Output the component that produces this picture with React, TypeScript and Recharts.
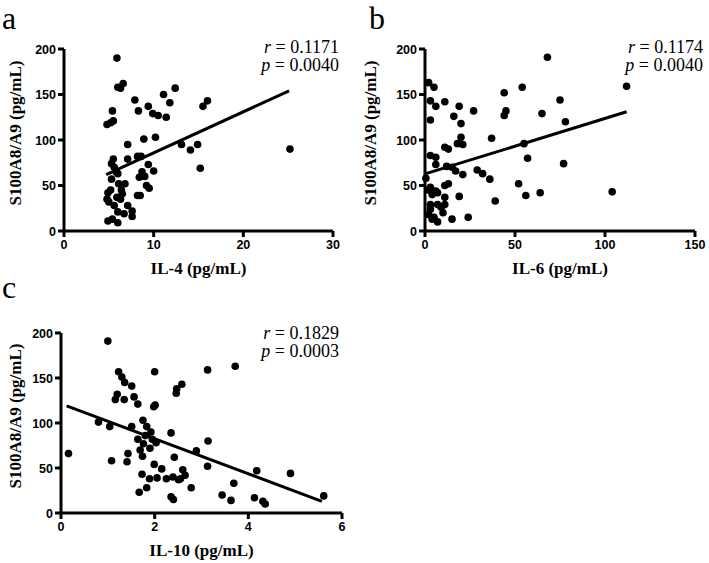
import React from "react";
import { ScatterChart, Scatter, XAxis, YAxis, ReferenceLine } from "recharts";

// panel a: IL-4 vs S100A8/A9
const il4Level = [5.9, 6.0, 6.3, 6.6, 4.8, 5.2, 5.5, 5.4, 7.9, 8.3, 9.4, 9.9, 10.5, 11.1, 11.8, 11.4, 12.4, 15.5, 16.0, 13.1, 14.1, 14.9, 15.2, 25.2, 8.9, 10.2, 7.1, 7.1, 5.5, 5.3, 5.6, 8.2, 8.6, 9.4, 10.0, 5.3, 6.0, 8.4, 8.7, 9.2, 9.5, 8.5, 8.2, 6.1, 6.8, 4.9, 4.8, 5.2, 5.9, 6.5, 5.6, 7.1, 7.6, 6.0, 6.7, 4.9, 5.4, 6.0, 7.6, 6.3, 5.0, 6.4, 5.8, 9.0];
const s100ForIl4 = [190, 158, 157, 162, 117, 119, 121, 132, 144, 132, 137, 129, 127, 150, 141, 125, 157, 137, 143, 95, 89, 95, 69, 90, 101, 103, 95, 79, 79, 74, 70, 82, 82, 73, 66, 57, 63, 59, 65, 50, 47, 39, 39, 52, 52, 42, 35, 45, 37, 41, 28, 28, 22, 21, 19, 11, 13, 9, 16, 35, 32, 45, 65, 60];
const il4FitX = [4.7, 25.1];
const il4FitY = [62, 154];

// panel b: IL-6 vs S100A8/A9
const il6Level = [68, 112, 2, 5, 44, 54, 75, 3, 6, 11, 19, 27, 45, 44, 65, 78, 3, 16, 20, 20, 21, 18, 37, 11, 13, 55, 57, 77, 3, 6, 6, 12, 15, 17, 0.5, 21, 29, 32, 36, 52, 11, 13, 3, 6, 4, 7, 11, 19, 39, 56, 64, 104, 3, 7, 11, 2, 5, 7, 10, 15, 24, 3, 2, 4, 9];
const s100ForIl6 = [191, 159, 163, 158, 152, 158, 144, 143, 137, 142, 137, 132, 132, 127, 129, 120, 122, 126, 118, 103, 95, 96, 102, 92, 90, 96, 80, 74, 83, 81, 73, 71, 70, 66, 58, 62, 67, 63, 57, 52, 50, 52, 48, 44, 40, 42, 37, 38, 33, 39, 42, 43, 29, 29, 29, 18, 15, 10, 20, 13, 15, 24, 45, 13, 26];
const il6FitX = [0.5, 112];
const il6FitY = [63, 131];

// panel c: IL-10 vs S100A8/A9
const il10Level = [0.16, 1.0, 0.8, 1.04, 1.08, 1.23, 1.3, 1.36, 1.51, 1.16, 1.2, 1.35, 1.56, 1.64, 2.0, 1.98, 2.01, 1.51, 1.75, 1.83, 1.92, 1.64, 1.8, 1.76, 1.69, 1.9, 2.03, 1.74, 1.41, 1.43, 1.73, 1.99, 1.89, 2.05, 2.15, 2.25, 2.35, 2.42, 2.39, 2.51, 2.6, 2.65, 2.46, 2.47, 2.58, 2.89, 3.13, 3.14, 3.13, 3.72, 3.69, 2.78, 1.67, 1.83, 2.35, 2.4, 3.44, 3.63, 4.18, 4.13, 4.31, 4.36, 4.9, 5.61, 1.95, 2.55];
const s100ForIl10 = [66, 191, 101, 96, 58, 157, 151, 145, 141, 126, 132, 126, 129, 121, 157, 118, 120, 96, 103, 96, 90, 82, 86, 77, 70, 72, 78, 63, 57, 66, 43, 54, 38, 39, 49, 38, 89, 62, 40, 37, 48, 42, 133, 138, 143, 69, 159, 80, 52, 163, 33, 28, 23, 28, 18, 15, 20, 14, 47, 17, 13, 10, 44, 19, 82, 38];
const il10FitX = [0.12, 5.57];
const il10FitY = [119, 13];

const yTicks = [0, 50, 100, 150, 200];
const il4Ticks = [0, 10, 20, 30];
const il6Ticks = [0, 50, 100, 150];
const il10Ticks = [0, 2, 4, 6];

const serif = "'Liberation Serif', 'Times New Roman', serif";
const sans = "'Liberation Sans', Arial, sans-serif";

const zip = (xs: number[], ys: number[]) => xs.map((x, i) => ({ x, y: ys[i] }));

const Dot = (props: any) => <circle cx={props.cx} cy={props.cy} r={3.8} fill="#000" />;

const XTick = (props: any) => (
  <text x={props.x} y={props.y} dy="0.72em" textAnchor="middle" fontFamily={sans} fontWeight={700} fontSize={12.5} fill="#000">
    {props.payload.value}
  </text>
);

const YTick = (props: any) => (
  <text x={props.x} y={props.y} dy="0.36em" textAnchor="end" fontFamily={sans} fontWeight={700} fontSize={12.5} fill="#000">
    {props.payload.value}
  </text>
);

const yLabel = (props: any) => {
  const vb = props.viewBox;
  const cx = vb.x + 15;
  const cy = vb.y + vb.height / 2 - 7;
  return (
    <text x={cx} y={cy} transform={`rotate(-90, ${cx}, ${cy})`} textAnchor="middle" dominantBaseline="central"
      fontFamily={serif} fontWeight="bold" fontSize={17} fill="#000">
      S100A8/A9 (pg/mL)
    </text>
  );
};

const makeXLabel = (text: string) => (props: any) => {
  const vb = props.viewBox;
  return (
    <text x={vb.x + vb.width / 2} y={vb.y + 43} textAnchor="middle" fontFamily={serif} fontWeight="bold" fontSize={17} fill="#000">
      {text}
    </text>
  );
};

type PanelProps = {
  left: number; top: number; width: number; height: number;
  yAxisWidth: number; right: number; plotTop: number; plotBottom: number;
  xs: number[]; ys: number[]; fitX: number[]; fitY: number[];
  xTicks: number[]; xLabel: string;
};

function Panel(p: PanelProps) {
  const data = zip(p.xs, p.ys);
  const xMax = p.xTicks[p.xTicks.length - 1];
  return (
    <div style={{ position: "absolute", left: p.left, top: p.top }}>
      <ScatterChart width={p.width} height={p.height}
        margin={{ top: p.plotTop, right: p.right, left: 0, bottom: 0 }}>
        <XAxis type="number" dataKey="x" domain={[0, xMax]} ticks={p.xTicks} interval={0}
          height={p.height - p.plotBottom} stroke="#000" strokeWidth={3} tickSize={6} tickMargin={3}
          tick={XTick} label={{ content: makeXLabel(p.xLabel) }} />
        <YAxis type="number" dataKey="y" domain={[0, 200]} ticks={yTicks} interval={0}
          width={p.yAxisWidth} stroke="#000" strokeWidth={3} tickSize={6} tickMargin={2}
          tick={YTick} label={{ content: yLabel }} />
        <Scatter data={data} shape={Dot} isAnimationActive={false} />
        <ReferenceLine segment={[{ x: p.fitX[0], y: p.fitY[0] }, { x: p.fitX[1], y: p.fitY[1] }]}
          stroke="#000" strokeWidth={3} ifOverflow="visible" />
      </ScatterChart>
    </div>
  );
}

const stat = (x: number, y: number, r: string, pv: string) => (
  <g fontFamily={serif} fontSize={18} fill="#000" textAnchor="end">
    <text x={x} y={y}><tspan fontStyle="italic">r</tspan> = {r}</text>
    <text x={x} y={y + 18}><tspan fontStyle="italic">p</tspan> = {pv}</text>
  </g>
);

export default function App() {
  return (
    <div style={{ position: "absolute", left: 0, top: 0, width: 709, height: 563, background: "#fff" }}>
      <Panel left={0} top={0} width={355} height={285} yAxisWidth={64} right={22} plotTop={49} plotBottom={231}
        xs={il4Level} ys={s100ForIl4} fitX={il4FitX} fitY={il4FitY} xTicks={il4Ticks} xLabel="IL-4 (pg/mL)" />
      <Panel left={355} top={0} width={354} height={285} yAxisWidth={70} right={14} plotTop={49} plotBottom={231}
        xs={il6Level} ys={s100ForIl6} fitX={il6FitX} fitY={il6FitY} xTicks={il6Ticks} xLabel="IL-6 (pg/mL)" />
      <Panel left={0} top={282} width={355} height={281} yAxisWidth={61} right={13} plotTop={51} plotBottom={231}
        xs={il10Level} ys={s100ForIl10} fitX={il10FitX} fitY={il10FitY} xTicks={il10Ticks} xLabel="IL-10 (pg/mL)" />
      <svg width={709} height={563} style={{ position: "absolute", left: 0, top: 0, pointerEvents: "none" }}>
        <text x={2} y={29} fontFamily={serif} fontSize={32} fill="#000">a</text>
        <text x={369} y={29} fontFamily={serif} fontSize={32} fill="#000">b</text>
        <text x={2} y={298} fontFamily={serif} fontSize={32} fill="#000">c</text>
        {stat(339, 53, "0.1171", "0.0040")}
        {stat(703, 53, "0.1174", "0.0040")}
        {stat(339, 339, "0.1829", "0.0003")}
      </svg>
    </div>
  );
}
